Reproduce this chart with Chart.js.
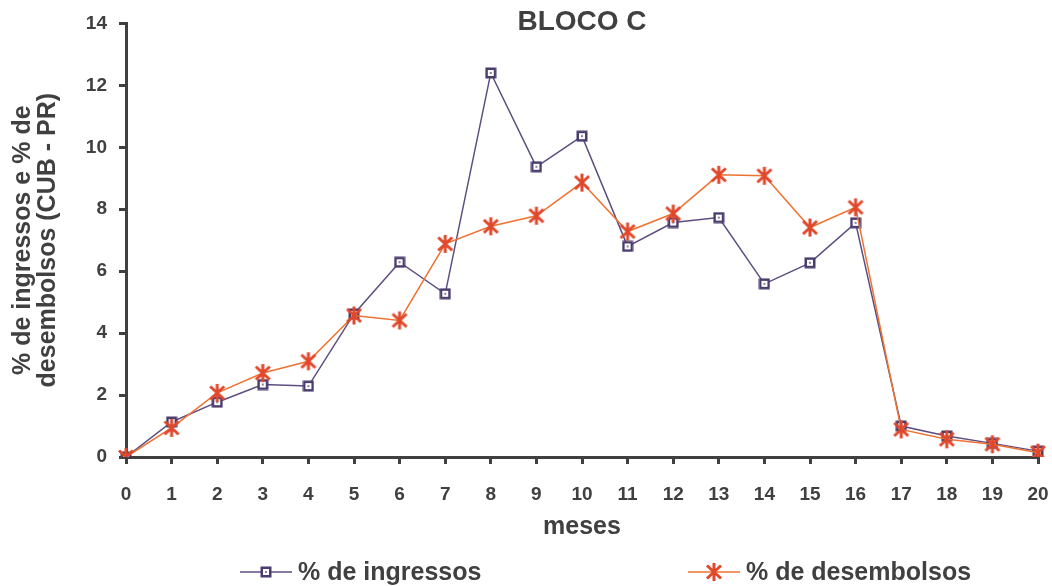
<!DOCTYPE html>
<html>
<head>
<meta charset="utf-8">
<title>BLOCO C</title>
<script src="https://cdn.jsdelivr.net/npm/chart.js@4/dist/chart.umd.min.js"></script>
<style>
  html, body { margin: 0; padding: 0; background: #ffffff; }
  canvas { display: block; }
</style>
</head>
<body>
<canvas id="chart" width="1052" height="586"></canvas>
<script>
// Months on the x axis
const meses = ['0','1','2','3','4','5','6','7','8','9','10','11','12','13','14','15','16','17','18','19','20'];

// % de ingressos per month
const ingressos = [0, 1.13, 1.77, 2.34, 2.29, 4.62, 6.29, 5.27, 12.40, 9.37, 10.36, 6.80, 7.57, 7.73, 5.59, 6.27, 7.56, 1.00, 0.68, 0.44, 0.19];

// % de desembolsos (CUB - PR) per month
const desembolsos = [0, 0.94, 2.07, 2.71, 3.09, 4.57, 4.41, 6.88, 7.45, 7.79, 8.86, 7.28, 7.86, 9.11, 9.08, 7.41, 8.06, 0.89, 0.57, 0.41, 0.14];

const seriesNames = ['% de ingressos', '% de desembolsos'];
const yTicks = { min: 0, max: 14, step: 2 };

const TEXT = '#404040';
const FONT = '"Liberation Sans", Arial, sans-serif';
const ING_LINE = '#5e4e80';
const ING_MARK = '#4a3c6c';
const DES_LINE = '#f07232';
const DES_MARK = '#e0482c';

// Square marker with a white centre
function squareMarker() {
  const c = document.createElement('canvas');
  c.width = 12; c.height = 12;
  const g = c.getContext('2d');
  g.fillStyle = ING_MARK;
  g.fillRect(0.5, 0.5, 11, 11);
  g.fillStyle = '#ffffff';
  g.fillRect(3, 3, 6, 6);
  g.fillStyle = '#8a80a0';
  g.fillRect(5, 5, 2, 2);
  return c;
}

// Asterisk marker: an X crossed by a vertical stroke
function starMarker() {
  const c = document.createElement('canvas');
  c.width = 18; c.height = 20;
  const g = c.getContext('2d');
  g.strokeStyle = DES_MARK;
  g.lineWidth = 3;
  g.lineCap = 'butt';
  g.beginPath();
  g.moveTo(2, 3.5); g.lineTo(16, 16.5);
  g.moveTo(16, 3.5); g.lineTo(2, 16.5);
  g.moveTo(9, 1); g.lineTo(9, 19);
  g.stroke();
  return c;
}

const sq = squareMarker();
const st = starMarker();

// Title drawn centred over the plot area
const titlePlugin = {
  id: 'blocoTitle',
  afterDraw(chart) {
    const { ctx, chartArea } = chart;
    ctx.save();
    ctx.fillStyle = TEXT;
    ctx.font = 'bold 28px ' + FONT;
    ctx.textAlign = 'center';
    ctx.textBaseline = 'alphabetic';
    ctx.fillText('BLOCO C', (chartArea.left + chartArea.right) / 2, 30);
    ctx.restore();
  }
};

// Legend entries: a line sample with the series marker, then the name
const legendPlugin = {
  id: 'lineLegend',
  afterDraw(chart) {
    const { ctx } = chart;
    const y = 572;
    const items = [
      { x: 240, color: ING_LINE, img: sq, text: seriesNames[0] },
      { x: 688, color: DES_LINE, img: st, text: seriesNames[1] }
    ];
    ctx.save();
    items.forEach(it => {
      ctx.strokeStyle = it.color;
      ctx.lineWidth = 1.5;
      ctx.beginPath();
      ctx.moveTo(it.x, y);
      ctx.lineTo(it.x + 52, y);
      ctx.stroke();
      ctx.drawImage(it.img, it.x + 26 - it.img.width / 2, y - it.img.height / 2);
      ctx.fillStyle = TEXT;
      ctx.font = 'bold 25px ' + FONT;
      ctx.textAlign = 'left';
      ctx.textBaseline = 'alphabetic';
      ctx.fillText(it.text, it.x + 58, 580);
    });
    ctx.restore();
  }
};

new Chart(document.getElementById('chart'), {
  type: 'line',
  data: {
    labels: meses,
    datasets: [
      {
        label: seriesNames[1],
        data: desembolsos,
        borderColor: DES_LINE,
        borderWidth: 1.5,
        pointStyle: st,
        pointRadius: 9,
        pointHoverRadius: 9,
        tension: 0,
        order: 0
      },
      {
        label: seriesNames[0],
        data: ingressos,
        borderColor: ING_LINE,
        borderWidth: 1.5,
        pointStyle: sq,
        pointRadius: 6,
        pointHoverRadius: 6,
        tension: 0,
        order: 1
      }
    ]
  },
  options: {
    responsive: false,
    animation: false,
    devicePixelRatio: 1,
    layout: { padding: { top: 21, right: 0, left: 0, bottom: 0 } },
    plugins: {
      legend: { display: false },
      title: { display: false },
      tooltip: { enabled: false }
    },
    scales: {
      x: {
        type: 'category',
        offset: false,
        grid: { display: true, drawOnChartArea: false, drawTicks: true, tickLength: 7, lineWidth: 3, color: TEXT },
        border: { display: true, width: 3, color: TEXT },
        ticks: { color: TEXT, font: { family: FONT, size: 19, weight: 'bold' }, padding: 19, autoSkip: false, maxRotation: 0 },
        title: { display: true, text: 'meses', color: TEXT, font: { family: FONT, size: 25, weight: 'bold' }, padding: { top: 0, bottom: 44 } },
        afterFit(scale) {
          scale.height = 129;
          scale.paddingLeft = 0;
          scale.paddingRight = 14;
        }
      },
      y: {
        min: yTicks.min,
        max: yTicks.max,
        grid: { display: true, drawOnChartArea: false, drawTicks: true, tickLength: 7, lineWidth: 3, color: TEXT },
        border: { display: true, width: 3, color: TEXT },
        ticks: { stepSize: yTicks.step, color: TEXT, font: { family: FONT, size: 19, weight: 'bold' }, padding: 12 },
        title: {
          display: true,
          text: ['% de ingressos e % de', 'desembolsos (CUB - PR)'],
          color: TEXT,
          font: { family: FONT, size: 25, weight: 'bold', lineHeight: 0.98 },
          padding: { top: 11, bottom: 0 }
        },
        afterFit(scale) { scale.width = 126; }
      }
    }
  },
  plugins: [titlePlugin, legendPlugin]
});
</script>
</body>
</html>
